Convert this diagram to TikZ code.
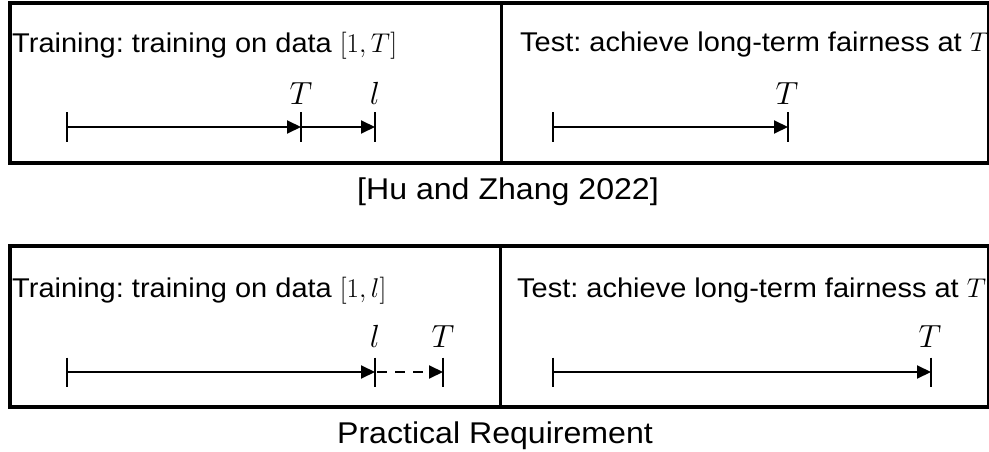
\RequirePackage{fix-cm}
\documentclass[tikz,border=0pt]{standalone}
\usepackage{fontspec}
\setmainfont{Liberation Sans}[FakeStretch=1.07]
\usetikzlibrary{arrows.meta}
\frenchspacing

\begin{document}
\begin{tikzpicture}[x=1pt,y=-1pt,
  lbl/.style={font=\fontsize{27.1}{31}\selectfont,inner sep=0pt},
  caption/.style={font=\fontsize{30}{34}\selectfont,inner sep=0pt,anchor=base},
  ptlabel/.style={font=\fontsize{32}{36}\selectfont,inner sep=0pt,anchor=base},
  tline/.style={line width=2pt,-{Triangle[length=14pt,width=13pt]}},
  tickline/.style={line width=2.5pt}]
  \useasboundingbox (0,0) rectangle (989,452);

  % ---- upper setting: Hu and Zhang 2022 ----
  \draw[line width=4pt] (10,3) rectangle (989,163);
  \coordinate (uTop) at (501,3);
  \coordinate (uBot) at (501,163);
  \draw[line width=3pt] (uTop) -- (uBot);

  \node[lbl,anchor=base west] (utrain) at (12,53) {Training: training on data $[1,T]$};
  \node[lbl,anchor=base west] (utest) at (520,52) {Test: achieve long-term fairness at $T$};

  \coordinate (ua0) at (67,127);
  \coordinate (ua1) at (301,127);
  \coordinate (ua2) at (375,127);
  \draw[tline] (ua0) -- (ua1);
  \draw[tline] (ua1) -- (ua2);
  \foreach \c in {ua0,ua1,ua2}
    \draw[tickline] ([yshift=14.5pt]\c) -- ([yshift=-14.5pt]\c);
  \node[ptlabel] (uT) at (301,104) {$T$};
  \node[ptlabel] (ul) at (375,104) {$l$};

  \coordinate (ub0) at (553,127);
  \coordinate (ub1) at (788,127);
  \draw[tline] (ub0) -- (ub1);
  \foreach \c in {ub0,ub1}
    \draw[tickline] ([yshift=14.5pt]\c) -- ([yshift=-14.5pt]\c);
  \node[ptlabel] (uT2) at (787,104) {$T$};

  \node[caption] (cap1) at (508,199) {[Hu and Zhang 2022]};

  % ---- lower setting: practical requirement ----
  \draw[line width=4pt] (10,246) rectangle (989,407);
  \coordinate (lTop) at (500,246);
  \coordinate (lBot) at (500,407);
  \draw[line width=3pt] (lTop) -- (lBot);

  \node[lbl,anchor=base west] (ltrain) at (12,297) {Training: training on data $[1,l]$};
  \node[lbl,anchor=base west] (ltest) at (517,297) {Test: achieve long-term fairness at $T$};

  \coordinate (la0) at (67,372);
  \coordinate (la1) at (375,372);
  \coordinate (la2) at (443,372);
  \draw[tline] (la0) -- (la1);
  \draw[tline,dash pattern=on 10pt off 8pt] ([xshift=2pt]la1) -- (la2);
  \foreach \c in {la0,la1,la2}
    \draw[tickline] ([yshift=14.5pt]\c) -- ([yshift=-14.5pt]\c);
  \node[ptlabel] (ll) at (375,347) {$l$};
  \node[ptlabel] (lT) at (443,347) {$T$};

  \coordinate (lb0) at (553,372);
  \coordinate (lb1) at (931,372);
  \draw[tline] (lb0) -- (lb1);
  \foreach \c in {lb0,lb1}
    \draw[tickline] ([yshift=14.5pt]\c) -- ([yshift=-14.5pt]\c);
  \node[ptlabel] (lT2) at (930,347) {$T$};

  \node[caption] (cap2) at (495,443) {Practical Requirement};
\end{tikzpicture}
\end{document}
